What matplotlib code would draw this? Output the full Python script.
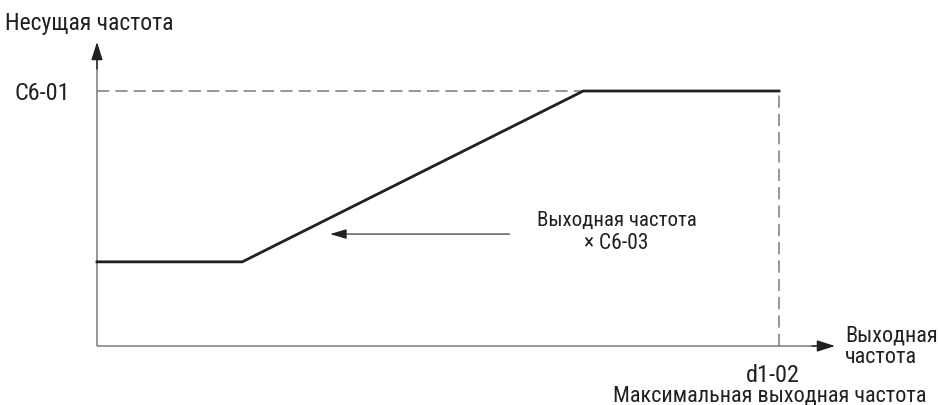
import matplotlib
matplotlib.use("Agg")
import matplotlib.pyplot as plt
from matplotlib import font_manager

# ---- data (normalised: x in % of max output freq, y in % of C6-01) ----
curve_x = [0, 21.3, 71.3, 100]
curve_y = [33, 33, 100, 100]
c601_level = 100
xmax_level = 100
note_arrow_x = [60.5, 34.2]
note_arrow_y = 43.9

labels = {
    "ylabel": "Несущая частота",
    "ytick": "C6-01",
    "note1": "Выходная частота",
    "note2": "× C6-03",
    "xlabel1": "Выходная",
    "xlabel2": "частота",
    "xtick": "d1-02",
    "xtick2": "Максимальная выходная частота",
}

avail = {f.name for f in font_manager.fontManager.ttflist}
fam = [f for f in ["Liberation Sans Narrow", "Roboto Condensed", "DejaVu Sans Condensed", "DejaVu Sans"] if f in avail]
plt.rcParams['font.family'] = fam

W, H = 938, 406
fig = plt.figure(figsize=(W / 100, H / 100), dpi=100)
x0, y0, x1, y1 = 97, 347, 779, 92
ax = fig.add_axes([x0 / W, (H - y0) / H, (x1 - x0) / W, (y0 - y1) / H])
ax.set_xlim(0, 100)
ax.set_ylim(0, 100)
ax.axis("off")

gray = "#7a7a7a"
dark = "#231f20"

def px_x(p):
    return (p - x0) / (x1 - x0) * 100

def px_y(p):
    return (y0 - p) / (y0 - y1) * 100

# axes
ax.plot([0, px_x(826)], [0, 0], color=gray, lw=1.1, clip_on=False, solid_capstyle="butt")
ax.plot([0, 0], [0, px_y(52)], color=gray, lw=1.1, clip_on=False, solid_capstyle="butt")
ax.annotate("", xy=(px_x(835), 0), xytext=(px_x(812), 0),
            arrowprops=dict(arrowstyle="-|>,head_length=1.1,head_width=0.35", color=dark, lw=1.0, shrinkA=0, shrinkB=0),
            annotation_clip=False)
ax.annotate("", xy=(0, px_y(43)), xytext=(0, px_y(70)),
            arrowprops=dict(arrowstyle="-|>,head_length=1.1,head_width=0.35", color=dark, lw=1.0, shrinkA=0, shrinkB=0),
            annotation_clip=False)

# dashed guides
ax.plot([0, curve_x[2]], [c601_level, c601_level], color=gray, lw=1.1, dashes=(8, 4), clip_on=False)
ax.plot([xmax_level, xmax_level], [0, c601_level], color=gray, lw=1.1, dashes=(8, 4), clip_on=False)

# main curve
ax.plot(curve_x, curve_y, color=dark, lw=2.0, clip_on=False, solid_joinstyle="miter")

# note arrow
ax.annotate("", xy=(note_arrow_x[1], note_arrow_y), xytext=(note_arrow_x[0], note_arrow_y),
            arrowprops=dict(arrowstyle="-|>,head_length=1.0,head_width=0.3", color=dark, lw=0.8, shrinkA=0, shrinkB=0))

# texts
kw = dict(color=dark, va="baseline", clip_on=False)
ax.text(px_x(5), px_y(30), labels["ylabel"], fontsize=17, ha="left", **kw)
ax.text(px_x(70), px_y(100), labels["ytick"], fontsize=17.5, ha="right", **kw)
ax.text(px_x(616.5), px_y(226), labels["note1"], fontsize=15, ha="center", **kw)
ax.text(px_x(616.5), px_y(249), labels["note2"], fontsize=15.5, ha="center", **kw)
ax.text(px_x(845), px_y(342), labels["xlabel1"], fontsize=16, ha="left", **kw)
ax.text(px_x(845), px_y(363), labels["xlabel2"], fontsize=16, ha="left", **kw)
ax.text(px_x(773), px_y(382), labels["xtick"], fontsize=17.5, ha="center", **kw)
ax.text(px_x(926), px_y(402), labels["xtick2"], fontsize=16, ha="right", **kw)

fig.savefig("out.png", dpi=100)
